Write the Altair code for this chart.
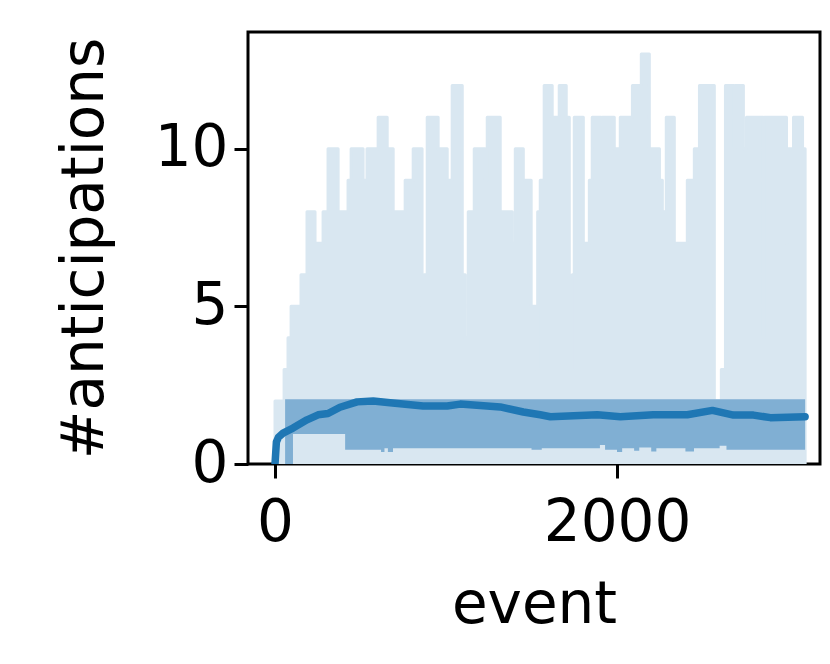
import altair as alt
import pandas as pd

# Upper envelope of the light band (max #anticipations), step function
max_events = [0, 53, 76, 94, 152, 187, 234, 281, 310, 369, 427, 445, 515, 538, 603, 656, 691,
              761, 808, 860, 872, 890, 954, 1007, 1036, 1095, 1112, 1130, 1165, 1229, 1241, 1317,
              1387, 1405, 1452, 1498, 1530, 1536, 1551, 1574, 1621, 1662, 1703, 1721, 1738, 1750,
              1803, 1838, 1855, 1908, 1914, 1984, 2019, 2090, 2142, 2189, 2248, 2265, 2271, 2288,
              2335, 2411, 2452, 2482, 2569, 2610, 2634, 2686, 2692, 2739, 2757, 2856, 2862, 2991,
              2997, 3032, 3085, 3100]
max_values = [2, 3, 4, 5, 6, 8, 7, 8, 10, 8, 9, 10, 9, 10, 11, 10, 8,
              9, 10, 5, 6, 11, 10, 9, 12, 6, 4, 8, 10, 9, 11, 8,
              7, 10, 9, 5, 3, 8, 9, 12, 11, 12, 11, 3, 6, 11,
              7, 9, 11, 9, 11, 10, 11, 12, 13, 10, 9, 4, 8, 11,
              7, 9, 10, 12, 2, 3, 12, 10, 12, 10, 11, 4, 11, 7,
              10, 11, 10, 10]

# Darker band (inter-quartile range), step function
iqr_events = [59, 105, 410, 620, 640, 660, 690, 1500, 1560, 1900, 1930, 2000, 2030, 2100,
              2130, 2200, 2230, 2400, 2450, 2600, 2640, 3100]
iqr_low = [0.0, 0.95, 0.45, 0.38, 0.5, 0.38, 0.5, 0.45, 0.5, 0.6, 0.45, 0.38, 0.5, 0.42,
           0.52, 0.4, 0.5, 0.4, 0.5, 0.58, 0.45, 0.45]
iqr_high = [2.05] * len(iqr_events)

# Mean number of anticipations
mean_events = [0, 8, 20, 47, 105, 187, 252, 310, 380, 480, 574, 673, 866, 1007, 1083, 1317,
               1452, 1551, 1610, 1885, 2019, 2212, 2411, 2558, 2681, 2798, 2897, 3100]
mean_values = [0.0, 0.7, 0.85, 0.98, 1.14, 1.40, 1.56, 1.6, 1.8, 1.97, 2.0, 1.94, 1.84, 1.84,
               1.9, 1.81, 1.65, 1.56, 1.5, 1.56, 1.5, 1.56, 1.56, 1.7, 1.55, 1.55, 1.47, 1.5]

df_max = pd.DataFrame({"event": max_events, "hi": max_values, "lo": [0] * len(max_events)})
df_iqr = pd.DataFrame({"event": iqr_events, "lo": iqr_low, "hi": iqr_high})
df_mean = pd.DataFrame({"event": mean_events, "mean": mean_values})

FONT = "DejaVu Sans"
x_scale = alt.Scale(domain=[-158, 3187], nice=False, zero=False)
y_scale = alt.Scale(domain=[0, 13.7], nice=False)

x_axis = alt.Axis(values=[0, 2000], title="event", format="d", grid=False)
y_axis = alt.Axis(values=[0, 5, 10], title="#anticipations", format="d", grid=False)

light = alt.Chart(df_max).mark_area(
    interpolate="step-after", color="#d9e7f1", opacity=1, clip=True,
    stroke="#d9e7f1", strokeWidth=3, strokeJoin="round"
).encode(
    x=alt.X("event:Q", scale=x_scale, axis=x_axis),
    y=alt.Y("hi:Q", scale=y_scale, axis=y_axis),
    y2="lo:Q",
)

dark = alt.Chart(df_iqr).mark_area(
    interpolate="step-after", color="#80afd3", opacity=1, clip=True
).encode(
    x=alt.X("event:Q", scale=x_scale),
    y=alt.Y("hi:Q", scale=y_scale),
    y2="lo:Q",
)

line = alt.Chart(df_mean).mark_line(
    color="#1f77b4", strokeWidth=7.5, strokeCap="round", strokeJoin="round", clip=True
).encode(
    x=alt.X("event:Q", scale=x_scale),
    y=alt.Y("mean:Q", scale=y_scale),
)

chart = alt.layer(light, dark, line).properties(
    width=572,
    height=432,
    autosize=alt.AutoSizeParams(type="none"),
    padding={"left": 240, "top": 24, "right": 2, "bottom": 180},
).configure_view(
    stroke="black", strokeWidth=3
).configure_axis(
    domain=False,
    labelFont=FONT, labelFontSize=58, labelColor="black", labelPadding=6,
    tickColor="black", tickWidth=3, tickSize=14,
    titleFont=FONT, titleFontSize=58, titleFontWeight="normal", titleColor="black",
).configure_axisY(
    titlePadding=40
).configure_axisX(
    titlePadding=24, labelPadding=16
)

chart.save("out.html", embed_options={"renderer": "svg", "actions": False})
